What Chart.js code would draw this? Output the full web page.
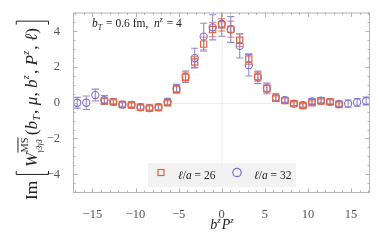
<!DOCTYPE html>
<html><head><meta charset="utf-8">
<script src="https://cdn.jsdelivr.net/npm/chart.js"></script>
<style>html,body{margin:0;padding:0;background:#fff}#c{display:block}</style>
</head><body>
<canvas id="c" width="382" height="243"></canvas>
<script>
// b^z P^z positions (z = -16 ... 16)
const xAll = [-16.76,-15.71,-14.66,-13.61,-12.57,-11.52,-10.47,-9.42,-8.38,-7.33,-6.28,-5.24,-4.19,-3.14,-2.09,-1.05,0,
              1.05,2.09,3.14,4.19,5.24,6.28,7.33,8.38,9.42,10.47,11.52,12.57,13.61,14.66,15.71,16.76];
// l/a = 32 (circles)
const y32 = [0.00,0.00,0.43,0.15,0.05,-0.10,-0.12,-0.25,-0.30,-0.25,0.05,0.78,1.45,2.50,3.70,4.22,4.42,
             4.10,3.18,2.10,1.42,0.80,0.30,0.15,-0.05,-0.13,0.08,0.12,0.05,-0.07,-0.05,0.02,0.10];
const e32 = [0.30,0.38,0.33,0.25,0.15,0.15,0.15,0.17,0.17,0.17,0.20,0.25,0.32,0.55,0.75,0.70,0.70,
             0.72,0.68,0.60,0.35,0.30,0.20,0.15,0.12,0.12,0.15,0.15,0.15,0.15,0.20,0.22,0.22];
// l/a = 26 (squares), z = -13 ... 13
const x26 = xAll.slice(3, 30);
const y26 = [0.10,0.05,-0.10,-0.13,-0.25,-0.30,-0.27,0.00,0.76,1.42,2.28,3.28,4.10,4.36,
             4.12,3.50,2.45,1.45,0.80,0.25,0.12,-0.05,-0.15,0.00,0.10,0.05,-0.10];
const e26 = [0.12,0.10,0.10,0.10,0.10,0.10,0.10,0.12,0.20,0.25,0.30,0.40,0.40,0.35,
             0.45,0.35,0.30,0.25,0.20,0.12,0.10,0.10,0.10,0.10,0.10,0.10,0.10];
const xTicks = [-15,-10,-5,0,5,10,15];
const yTicks = [-4,-2,0,2,4];
const legendLabels = ['26','32'];

const RED = 'rgb(232,98,58)', REDBAR = 'rgba(238,130,95,0.85)';
const PUR = 'rgb(125,115,200)', PURBAR = 'rgba(135,125,205,0.9)';
const SERIF = '"Liberation Serif", "DejaVu Serif", serif';

function runs(ctx, x, y, parts, draw) {
  for (const p of parts) {
    ctx.font = (p.i ? 'italic ' : '') + p.s + 'px ' + SERIF;
    const w = ctx.measureText(p.t).width;
    if (draw !== false) ctx.fillText(p.t, x, y + (p.dy || 0));
    x += w + (p.k || 0);
  }
  return x;
}

const decor = {
  id: 'decor',
  beforeDatasetsDraw(chart) {
    const {ctx, chartArea: a, scales: {x, y}} = chart;
    ctx.save();
    ctx.strokeStyle = 'rgba(0,0,0,0.07)'; ctx.lineWidth = 1;
    ctx.beginPath();
    ctx.moveTo(x.getPixelForValue(0) + 0.5, a.top); ctx.lineTo(x.getPixelForValue(0) + 0.5, a.bottom);
    ctx.moveTo(a.left, Math.round(y.getPixelForValue(0)) + 0.5); ctx.lineTo(a.right, Math.round(y.getPixelForValue(0)) + 0.5);
    ctx.stroke();
    ctx.beginPath(); ctx.rect(a.left, a.top, a.right - a.left, a.bottom - a.top); ctx.clip();
    const bars = (xs, ys, es, col) => {
      ctx.strokeStyle = col; ctx.lineWidth = 1.1;
      ctx.beginPath();
      xs.forEach((xv, i) => {
        const px = x.getPixelForValue(xv);
        const p1 = y.getPixelForValue(ys[i] + es[i]), p2 = y.getPixelForValue(ys[i] - es[i]);
        ctx.moveTo(px, p1); ctx.lineTo(px, p2);
        ctx.moveTo(px - 3.6, p1); ctx.lineTo(px + 3.6, p1);
        ctx.moveTo(px - 3.6, p2); ctx.lineTo(px + 3.6, p2);
      });
      ctx.stroke();
    };
    bars(x26, y26, e26, REDBAR);
    bars(xAll, y32, e32, PURBAR);
    ctx.restore();
  },
  afterDraw(chart) {
    const {ctx, chartArea: a, scales: {x, y}} = chart;
    ctx.save();
    ctx.strokeStyle = '#b4b4b4'; ctx.lineWidth = 1;
    ctx.strokeRect(a.left + 0.5, a.top + 0.5, a.right - a.left - 1, a.bottom - a.top - 1);
    ctx.beginPath();
    for (let v = -17; v <= 17; v++) {
      const px = Math.round(x.getPixelForValue(v)) + 0.5;
      const L = (v % 5 === 0) ? 4.5 : 2.5;
      ctx.moveTo(px, a.bottom); ctx.lineTo(px, a.bottom - L);
      ctx.moveTo(px, a.top); ctx.lineTo(px, a.top + L);
    }
    for (let v = -5; v <= 5.001; v += 0.5) {
      const py = Math.round(y.getPixelForValue(v)) + 0.5;
      const L = (Math.abs(v % 2) < 1e-6) ? 4.5 : 2.5;
      ctx.moveTo(a.left, py); ctx.lineTo(a.left + L, py);
      ctx.moveTo(a.right, py); ctx.lineTo(a.right - L, py);
    }
    ctx.stroke();

    ctx.fillStyle = '#222'; ctx.textAlign = 'left'; ctx.textBaseline = 'alphabetic';
    runs(ctx, 92, 27, [
      {t:'b', i:1, s:11.5}, {t:'T', i:1, s:8, dy:2.5, k:1}, {t:' = 0.6 fm,  ', s:11.5},
      {t:'n', i:1, s:11.5}, {t:'z', i:1, s:7.5, dy:-5, k:1}, {t:' = 4', s:11.5}
    ]);
    const xl = [{t:'b', i:1, s:14}, {t:'z', i:1, s:9, dy:-6, k:1}, {t:'P', i:1, s:14}, {t:'z', i:1, s:9, dy:-6}];
    const wx = runs(ctx, 0, 0, xl, false);
    runs(ctx, 222 - wx / 2, 229, xl);

    ctx.fillStyle = '#f2f2f2';
    ctx.fillRect(148, 163, 148, 24);
    ctx.lineWidth = 1.2;
    ctx.strokeStyle = RED; ctx.strokeRect(158, 169.5, 6, 6);
    ctx.strokeStyle = PUR; ctx.beginPath(); ctx.arc(237, 172.5, 4.2, 0, 2 * Math.PI); ctx.stroke();
    ctx.fillStyle = '#222';
    const lg = (x0, n) => runs(ctx, x0, 179, [{t:'\u2113', i:1, s:11.5}, {t:'/', s:11.5}, {t:'a', i:1, s:11.5}, {t:' = ' + n, s:11.5}]);
    lg(178, legendLabels[0]); lg(254, legendLabels[1]);

    // y label (rotated)
    const yl = [
      {t:'Im', s:15, k:5}, {t:'[', br:1, k:3}, {t:'W', i:1, s:15, k:0},
      {sup:'MS', sub:'\u03b33\u03b33', k:2},
      {t:'(', s:15}, {t:'b', i:1, s:15}, {t:'T', i:1, s:9, dy:3, k:1}, {t:', ', s:15},
      {t:'\u03bc', i:1, s:15}, {t:', ', s:15}, {t:'b', i:1, s:15}, {t:'z', i:1, s:9, dy:-7, k:1}, {t:', ', s:15},
      {t:'P', i:1, s:15}, {t:'z', i:1, s:9, dy:-7, k:1}, {t:', ', s:15}, {t:'\u2113', i:1, s:15}, {t:')', s:15, k:3}, {t:']', br:1}
    ];
    const measure = (p) => {
      if (p.br) return 4 + (p.k || 0);
      if (p.sup) {
        ctx.font = '9px ' + SERIF; const w1 = ctx.measureText(p.sup).width;
        ctx.font = 'italic 6.5px ' + SERIF; const w2 = ctx.measureText(p.sub).width;
        return Math.max(w1, w2) + (p.k || 0);
      }
      ctx.font = (p.i ? 'italic ' : '') + p.s + 'px ' + SERIF;
      return ctx.measureText(p.t).width + (p.k || 0);
    };
    let total = 0; yl.forEach(p => total += measure(p));
    const f = 180 / total;
    ctx.translate(37, 110); ctx.rotate(-Math.PI / 2); ctx.scale(f, f);
    let cx = -total / 2;
    ctx.strokeStyle = '#222'; ctx.lineWidth = 1 / f;
    for (const p of yl) {
      const w = measure(p);
      if (p.br) {
        ctx.beginPath();
        if (p.t === '[') { ctx.moveTo(cx + 3.5, -18); ctx.lineTo(cx + 0.5, -18); ctx.lineTo(cx + 0.5, 10); ctx.lineTo(cx + 3.5, 10); }
        else { ctx.moveTo(cx, -18); ctx.lineTo(cx + 3, -18); ctx.lineTo(cx + 3, 10); ctx.lineTo(cx, 10); }
        ctx.stroke();
      } else if (p.sup) {
        ctx.font = '9px ' + SERIF; ctx.fillText(p.sup, cx, -8);
        const w1 = ctx.measureText(p.sup).width;
        ctx.beginPath(); ctx.moveTo(cx, -16.5); ctx.lineTo(cx + w1, -16.5); ctx.stroke();
        ctx.font = 'italic 6.5px ' + SERIF; ctx.fillText(p.sub, cx, 4);
      } else {
        ctx.font = (p.i ? 'italic ' : '') + p.s + 'px ' + SERIF;
        ctx.fillText(p.t, cx, p.dy || 0);
      }
      cx += w;
    }
    ctx.restore();
  }
};

new Chart(document.getElementById('c'), {
  type: 'scatter',
  data: {
    datasets: [
      { label: '\u2113/a = 26', data: x26.map((v, i) => ({x: v, y: y26[i]})),
        pointStyle: 'rect', pointRadius: 4.4, borderColor: RED, backgroundColor: 'rgba(0,0,0,0)', borderWidth: 1.2 },
      { label: '\u2113/a = 32', data: xAll.map((v, i) => ({x: v, y: y32[i]})),
        pointStyle: 'circle', pointRadius: 3.6, borderColor: PUR, backgroundColor: 'rgba(0,0,0,0)', borderWidth: 1.1 }
    ]
  },
  options: {
    responsive: false, animation: false,
    layout: { padding: { top: 11, right: 12, left: 0, bottom: 0 } },
    plugins: { legend: { display: false }, tooltip: { enabled: false } },
    scales: {
      x: {
        type: 'linear', min: -17.25, max: 17.2,
        grid: { display: false }, border: { display: false },
        afterBuildTicks: s => { s.ticks = xTicks.map(v => ({value: v})); },
        afterFit: s => { s.height = 50; },
        ticks: { padding: 6, color: '#555', font: { family: SERIF, size: 12.5 },
                 callback: v => String(v).replace('-', '\u2212') }
      },
      y: {
        type: 'linear', min: -5.05, max: 5.05,
        grid: { display: false }, border: { display: false },
        afterBuildTicks: s => { s.ticks = yTicks.map(v => ({value: v})); },
        afterFit: s => { s.width = 73; },
        ticks: { padding: 5, color: '#555', font: { family: SERIF, size: 12.5 },
                 callback: v => String(v).replace('-', '\u2212') }
      }
    }
  },
  plugins: [decor]
});
</script>
</body></html>
